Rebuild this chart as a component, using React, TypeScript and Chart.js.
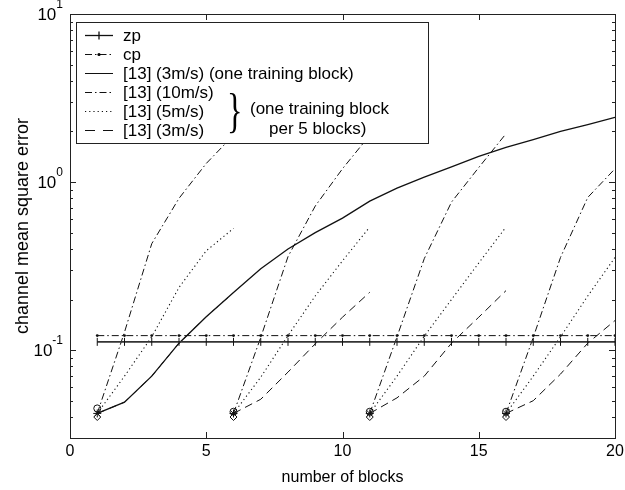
import React, { useEffect, useRef } from 'react';
import { Chart, registerables } from 'chart.js';

Chart.register(...registerables);

// ---------------- data ----------------
const blocks = [1, 2, 3, 4, 5, 6, 7, 8, 9, 10, 11, 12, 13, 14, 15, 16, 17, 18, 19, 20];
const zpMse = [0.112, 0.112, 0.112, 0.112, 0.112, 0.112, 0.112, 0.112, 0.112, 0.112, 0.112, 0.112, 0.112, 0.112, 0.112, 0.112, 0.112, 0.112, 0.112, 0.112];
const cpMse = [0.122, 0.122, 0.122, 0.122, 0.122, 0.122, 0.122, 0.122, 0.122, 0.122, 0.122, 0.122, 0.122, 0.122, 0.122, 0.122, 0.122, 0.122, 0.122, 0.122];
const oneTrainingMse = [0.042, 0.049, 0.070, 0.110, 0.158, 0.22, 0.305, 0.40, 0.50, 0.61, 0.77, 0.92, 1.07, 1.23, 1.42, 1.61, 1.79, 2.0, 2.2, 2.43];

// training block every 5 blocks: segments start at these block numbers
const segmentStarts = [1, 6, 11, 16];
const mse10Seg1 = [0.042, 0.128, 0.43, 0.80, 1.29, 1.9];
const mse10Seg2 = [0.042, 0.119, 0.36, 0.72, 1.2, 1.9];
const mse10Seg3 = [0.042, 0.12, 0.35, 0.76, 1.22, 1.94];
const mse10Seg4 = [0.042, 0.119, 0.356, 0.81, 1.2];
const mse5Seg1 = [0.042, 0.07, 0.12, 0.236, 0.39, 0.53];
const mse5Seg2 = [0.042, 0.069, 0.122, 0.21, 0.34, 0.54];
const mse5Seg3 = [0.042, 0.07, 0.121, 0.2, 0.33, 0.54];
const mse5Seg4 = [0.042, 0.07, 0.12, 0.21, 0.356];
const mse3Seg1 = [0.042, 0.049, 0.070, 0.110, 0.158, 0.22];
const mse3Seg2 = [0.042, 0.051, 0.074, 0.109, 0.157, 0.221];
const mse3Seg3 = [0.042, 0.052, 0.070, 0.11, 0.157, 0.226];
const mse3Seg4 = [0.042, 0.05, 0.072, 0.11, 0.15];

// markers at the training-block points
const startCircleMse = [0.045, 0.043, 0.043, 0.043];
const startStarMse = [0.042, 0.042, 0.042, 0.042];
const startDiamondMse = [0.040, 0.040, 0.040, 0.040];

const xTicks = [0, 5, 10, 15, 20];
const yTicks = [0.1, 1, 10];
const yTickBase = '10';
const yTickExponents = ['-1', '0', '1'];

const legendLabels = ['zp', 'cp', '[13] (3m/s) (one training block)', '[13] (10m/s)', '[13] (5m/s)', '[13] (3m/s)'];
const braceNote = ['(one training block', 'per 5 blocks)'];
const xTitle = 'number of blocks';
const yTitle = 'channel mean square error';

// ---------------- styles ----------------
const FONT = '"Liberation Sans", Arial, Helvetica, sans-serif';
const INK = '#111';
const DASH_DOT = [7, 3, 1.5, 3];
const DOTTED = [1.2, 3];
const DASHED = [8, 5];

const seg = (start: number, vals: number[]) => vals.map((v, i) => ({ x: start + i, y: v }));

const framePlugin = {
  id: 'frameTicks',
  afterDatasetsDraw(chart: any) {
    const { ctx, chartArea: a, scales } = chart;
    const xs = scales.x;
    const ys = scales.y;
    ctx.save();
    ctx.strokeStyle = '#222';
    ctx.lineWidth = 1;
    ctx.setLineDash([]);
    ctx.strokeRect(Math.round(a.left) + 0.5, Math.round(a.top) + 0.5, Math.round(a.right - a.left), Math.round(a.bottom - a.top));
    ctx.beginPath();
    for (const v of xTicks) {
      const px = Math.round(xs.getPixelForValue(v)) + 0.5;
      ctx.moveTo(px, a.bottom);
      ctx.lineTo(px, a.bottom - 6);
      ctx.moveTo(px, a.top);
      ctx.lineTo(px, a.top + 6);
    }
    for (let e = -2; e <= 1; e++) {
      for (let m = 1; m <= 9; m++) {
        const v = m * Math.pow(10, e);
        if (v < ys.min * 0.999 || v > ys.max * 1.001) continue;
        const py = Math.round(ys.getPixelForValue(v)) + 0.5;
        const len = m === 1 ? 6 : 3;
        ctx.moveTo(a.left, py);
        ctx.lineTo(a.left + len, py);
        ctx.moveTo(a.right, py);
        ctx.lineTo(a.right - len, py);
      }
    }
    ctx.stroke();

    // y tick labels: 10 with a superscript exponent
    ctx.fillStyle = '#000';
    const rightEdge = a.left - 7;
    yTicks.forEach((v, i) => {
      const py = ys.getPixelForValue(v);
      ctx.font = `12px ${FONT}`;
      ctx.textAlign = 'right';
      ctx.textBaseline = 'middle';
      const exp = yTickExponents[i];
      const ew = ctx.measureText(exp).width;
      ctx.fillText(exp, rightEdge, py - 9);
      ctx.font = `17px ${FONT}`;
      ctx.fillText(yTickBase, rightEdge - ew, py + 1);
    });
    ctx.restore();
  },
};

const legendPlugin = {
  id: 'customLegend',
  afterDraw(chart: any) {
    const { ctx, chartArea: a } = chart;
    const bx = Math.round(a.left) + 6;
    const by = Math.round(a.top) + 8;
    const bw = 352;
    const bh = 121;
    ctx.save();
    ctx.fillStyle = '#fff';
    ctx.fillRect(bx, by, bw, bh);
    ctx.strokeStyle = '#222';
    ctx.lineWidth = 1;
    ctx.setLineDash([]);
    ctx.strokeRect(bx + 0.5, by + 0.5, bw, bh);

    const rowH = 19;
    const firstRow = by + 12.5;
    const lx0 = bx + 9;
    const lx1 = bx + 37;
    const tx = bx + 47;
    const dashes = [[], DASH_DOT, [], DASH_DOT, DOTTED, [10, 8]];
    ctx.font = `17px ${FONT}`;
    ctx.textBaseline = 'middle';
    ctx.fillStyle = '#000';
    legendLabels.forEach((lab, i) => {
      const y = Math.round(firstRow + i * rowH) + 0.5;
      ctx.strokeStyle = INK;
      ctx.lineWidth = i === 0 ? 1.3 : 1;
      ctx.setLineDash(dashes[i]);
      ctx.beginPath();
      ctx.moveTo(lx0, y);
      ctx.lineTo(lx1, y);
      ctx.stroke();
      ctx.setLineDash([]);
      const cx = (lx0 + lx1) / 2;
      if (i === 0) {
        ctx.beginPath();
        ctx.moveTo(cx, y - 4);
        ctx.lineTo(cx, y + 4);
        ctx.stroke();
      } else if (i === 1) {
        ctx.beginPath();
        ctx.arc(cx, y, 1.6, 0, Math.PI * 2);
        ctx.fillStyle = '#000';
        ctx.fill();
      }
      ctx.fillStyle = '#000';
      ctx.fillText(lab, tx, y + 1);
    });

    // brace grouping the last three entries (a thinner, tall glyph)
    const braceY = firstRow + 4 * rowH + 1;
    ctx.save();
    ctx.translate(bx + 151, braceY + 3);
    ctx.scale(0.7, 1.05);
    ctx.font = `46px "Liberation Serif", "DejaVu Serif", serif`;
    ctx.textAlign = 'left';
    ctx.textBaseline = 'middle';
    ctx.fillText('}', 0, 0);
    ctx.restore();
    ctx.font = `17px ${FONT}`;
    ctx.textAlign = 'left';
    ctx.textBaseline = 'middle';
    ctx.fillText(braceNote[0], bx + 174, firstRow + 3.95 * rowH);
    ctx.fillText(braceNote[1], bx + 193, firstRow + 5 * rowH);
    ctx.restore();
  },
};

export default function App() {
  const ref = useRef<HTMLCanvasElement | null>(null);

  useEffect(() => {
    document.body.style.margin = '0';
    const canvas = ref.current;
    if (!canvas) return;

    const datasets: any[] = [];
    const markerBase = { showLine: false, borderColor: INK, backgroundColor: 'rgba(0,0,0,0)', borderWidth: 1 };
    datasets.push({ ...markerBase, label: 'start-circle', data: segmentStarts.map((s, i) => ({ x: s, y: startCircleMse[i] })), pointStyle: 'circle', pointRadius: 3.5 });
    datasets.push({ ...markerBase, label: 'start-star', data: segmentStarts.map((s, i) => ({ x: s, y: startStarMse[i] })), pointStyle: 'star', pointRadius: 4 });
    datasets.push({ ...markerBase, label: 'start-diamond', data: segmentStarts.map((s, i) => ({ x: s, y: startDiamondMse[i] })), pointStyle: 'rectRot', pointRadius: 3.5 });

    const lineBase = { borderColor: INK, backgroundColor: INK, pointRadius: 0, borderWidth: 1, tension: 0, fill: false };
    datasets.push({ ...lineBase, label: 'zp', data: blocks.map((b, i) => ({ x: b, y: zpMse[i] })), borderWidth: 1.6, borderColor: '#333', pointStyle: 'line', pointRadius: 4, pointRotation: 90, pointBorderColor: INK, pointBorderWidth: 1 });
    datasets.push({ ...lineBase, label: 'cp', data: blocks.map((b, i) => ({ x: b, y: cpMse[i] })), borderDash: DASH_DOT, pointStyle: 'circle', pointRadius: 1.4, pointBackgroundColor: INK, pointBorderWidth: 0 });
    datasets.push({ ...lineBase, label: '[13] (3m/s) (one training block)', data: blocks.map((b, i) => ({ x: b, y: oneTrainingMse[i] })), borderWidth: 1.3 });

    const seg10 = [mse10Seg1, mse10Seg2, mse10Seg3, mse10Seg4];
    const seg5 = [mse5Seg1, mse5Seg2, mse5Seg3, mse5Seg4];
    const seg3 = [mse3Seg1, mse3Seg2, mse3Seg3, mse3Seg4];
    segmentStarts.forEach((s, k) => {
      datasets.push({ ...lineBase, label: '[13] (10m/s)', data: seg(s, seg10[k]), borderDash: DASH_DOT });
      datasets.push({ ...lineBase, label: '[13] (5m/s)', data: seg(s, seg5[k]), borderDash: DOTTED, borderWidth: 1.1 });
      datasets.push({ ...lineBase, label: '[13] (3m/s)', data: seg(s, seg3[k]), borderDash: DASHED });
    });

    const chart = new Chart(canvas, {
      type: 'line',
      data: { datasets },
      options: {
        animation: false,
        responsive: false,
        devicePixelRatio: 1,
        layout: { padding: { top: 14, right: 10, left: 0, bottom: 0 } },
        plugins: { legend: { display: false }, tooltip: { enabled: false } },
        scales: {
          x: {
            type: 'linear',
            min: 0,
            max: 20,
            afterBuildTicks: (s: any) => { s.ticks = xTicks.map((v) => ({ value: v })); },
            ticks: { font: { family: FONT, size: 16 }, color: '#000', padding: -4, maxRotation: 0 },
            grid: { display: false },
            border: { display: false },
            title: { display: true, text: xTitle, font: { family: FONT, size: 16 }, color: '#000', padding: { top: 0, bottom: 3 } },
            afterFit: (s: any) => { s.height = 52; },
          },
          y: {
            type: 'logarithmic',
            min: 0.03,
            max: 10,
            afterBuildTicks: (s: any) => { s.ticks = yTicks.map((v) => ({ value: v })); },
            ticks: { display: false },
            grid: { display: false },
            border: { display: false },
            title: { display: true, text: yTitle, font: { family: FONT, size: 18 }, color: '#000', padding: { top: 12, bottom: 0 } },
            afterFit: (s: any) => { s.width = 70; },
          },
        },
      } as any,
      plugins: [framePlugin, legendPlugin],
    });
    return () => chart.destroy();
  }, []);

  return <canvas ref={ref} width={625} height={490} style={{ display: 'block' }} />;
}
